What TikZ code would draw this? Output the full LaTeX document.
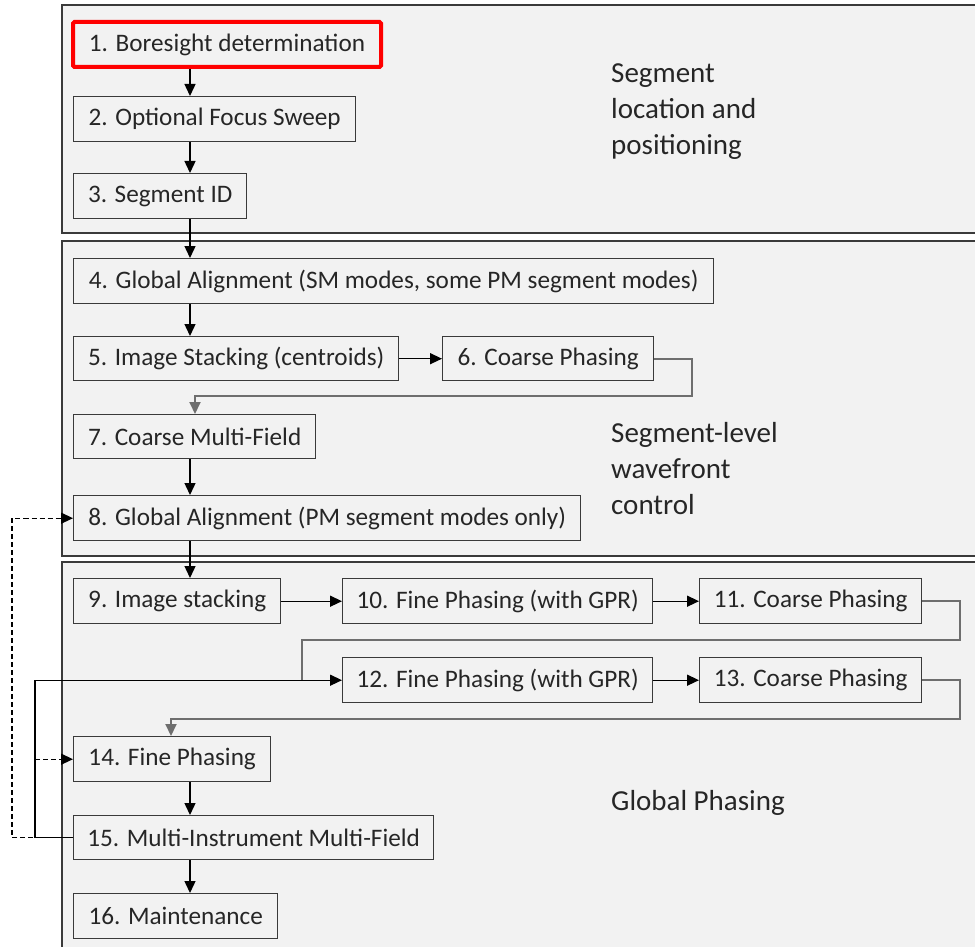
\documentclass[tikz,border=0pt]{standalone}
\usepackage{fontspec}
\setmainfont{Carlito}
\usetikzlibrary{arrows.meta}
\definecolor{panelfill}{HTML}{F2F2F2}
\definecolor{edge}{HTML}{3A3A3A}
\definecolor{txt}{HTML}{262626}
\definecolor{routegray}{HTML}{6E6E6E}
\definecolor{hired}{HTML}{FF0000}
\begin{document}
\begin{tikzpicture}[x=1pt,y=-1pt,
  panel/.style={draw=edge, fill=panelfill, line width=1.5pt},
  box/.style={draw=edge, fill=panelfill, line width=1.4pt, anchor=north west,
    minimum height=45pt, inner sep=0pt, text=txt,
    font=\fontsize{25.2}{30}\selectfont},
  redbox/.style={box, draw=hired, line width=4pt, rounded corners=1.5pt},
  arr/.style={draw=black, line width=1.4pt, -{Triangle[length=12pt,width=11pt]}},
  routearr/.style={draw=routegray, line width=2pt, -{Triangle[length=12pt,width=11pt]}},
  route/.style={draw=routegray, line width=2pt},
  dasharr/.style={draw=black, line width=1.3pt, dashed, dash pattern=on 5pt off 3pt, -{Triangle[length=12pt,width=11pt]}},
  lab/.style={anchor=north west, align=left, inner sep=0pt, text=txt,
    font=\fontsize{29}{36}\selectfont}
]
\useasboundingbox (0,0) rectangle (975,947);
\clip (0,0) rectangle (975,947);
\fill[white] (0,0) rectangle (975,947);
% panels
\draw[panel] (62,5) rectangle (995,233);
\draw[panel] (62,241) rectangle (995,556);
\draw[panel] (62,562) rectangle (995,965);
% labels
\node[lab] (l1) at (611,63) {Segment\\location and\\positioning};
\node[lab] (l2) at (611,422) {Segment-level\\wavefront\\control};
\node[lab] (l3) at (611,790) {Global Phasing};
% boxes
\node[redbox, minimum width=308pt] (n1) at (71,20) {1. Boresight determination};
\node[box, minimum width=282pt] (n2) at (73,96) {2. Optional Focus Sweep};
\node[box, minimum width=173pt] (n3) at (73,173) {3. Segment ID};
\node[box, minimum width=640pt] (n4) at (73,258) {4. Global Alignment (SM modes, some PM segment modes)};
\node[box, minimum width=325pt, minimum height=44pt] (n5) at (73,336) {5. Image Stacking (centroids)};
\node[box, minimum width=211pt, minimum height=44pt] (n6) at (442,336) {6. Coarse Phasing};
\node[box, minimum width=242pt, minimum height=44pt] (n7) at (73,414) {7. Coarse Multi-Field};
\node[box, minimum width=507pt] (n8) at (73,495) {8. Global Alignment (PM segment modes only)};
\node[box, minimum width=207pt] (n9) at (73,578) {9. Image stacking};
\node[box, minimum width=310pt] (n10) at (342,578) {10. Fine Phasing (with GPR)};
\node[box, minimum width=222pt] (n11) at (699,578) {11. Coarse Phasing};
\node[box, minimum width=310pt] (n12) at (342,657) {12. Fine Phasing (with GPR)};
\node[box, minimum width=222pt] (n13) at (699,657) {13. Coarse Phasing};
\node[box, minimum width=197pt] (n14) at (73,736) {14. Fine Phasing};
\node[box, minimum width=360pt, minimum height=44pt] (n15) at (73,815) {15. Multi-Instrument Multi-Field};
\node[box, minimum width=204pt] (n16) at (73,893) {16. Maintenance};
% helper coordinates
\coordinate (xa) at (190,0);
\coordinate (x195) at (195,0);
\coordinate (x171) at (171,0);
\coordinate (k6) at (692,396);
\coordinate (k11) at (960,640);
\coordinate (j12) at (302,640);
\coordinate (k13) at (960,719);
\coordinate (xs) at (35,0);
\coordinate (xd) at (12,0);
% vertical arrows
\draw[arr] (n1.south -| xa) -- (n2.north -| xa);
\draw[arr] (n2.south -| xa) -- (n3.north -| xa);
\draw[arr] (n3.south -| xa) -- (n4.north -| xa);
\draw[arr] (n4.south -| xa) -- (n5.north -| xa);
\draw[arr] (n7.south -| xa) -- (n8.north -| xa);
\draw[arr] (n8.south -| xa) -- (n9.north -| xa);
\draw[arr] (n14.south -| xa) -- (n15.north -| xa);
\draw[arr] (n15.south -| xa) -- (n16.north -| xa);
% horizontal arrows
\draw[arr] (n5.east) -- (n6.west);
\draw[arr] (n9.east) -- (n10.west);
\draw[arr] (n10.east) -- (n11.west);
\draw[arr] (n12.east) -- (n13.west);
% routed connectors
\draw[routearr] (n6.east) -| (k6) -- (k6 -| x195) -- (n7.north -| x195);
\draw[route] (n11.east) -| (k11) -- (j12) -- (j12 |- n12.west);
\draw[routearr] (n13.east) -| (k13) -- (k13 -| x171) -- (n14.north -| x171);
% feedback loops
\draw[dasharr] (n15.west) -| (xd |- n8.west) -- (n8.west);
\draw[arr] (n15.west) -| (xs |- n12.west) -- (n12.west);
\draw[dasharr] (xs |- n14.west) -- (n14.west);
\end{tikzpicture}
\end{document}
